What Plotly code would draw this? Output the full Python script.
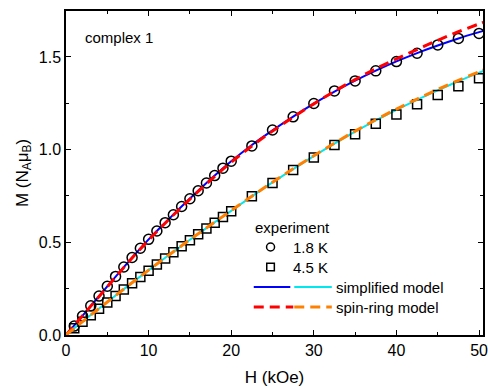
import plotly.graph_objects as go

# ---------------- data ----------------
H_exp = [1, 2, 3, 4, 5, 6, 7, 8, 9, 10, 11, 12, 13, 14, 15, 16, 17, 18, 19, 20,
         22.5, 25, 27.5, 30, 32.5, 35, 37.5, 40, 42.5, 45, 47.5, 50]
M_18K = [0.048, 0.102, 0.158, 0.21, 0.263, 0.316, 0.367, 0.418, 0.468, 0.516,
         0.561, 0.606, 0.649, 0.693, 0.735, 0.778, 0.82, 0.86, 0.9, 0.938,
         1.02, 1.106, 1.177, 1.249, 1.317, 1.371, 1.425, 1.475, 1.52, 1.565, 1.6, 1.627]
M_45K = [0.036, 0.071, 0.106, 0.141, 0.176, 0.21, 0.245, 0.279, 0.313, 0.347,
         0.38, 0.413, 0.446, 0.479, 0.511, 0.543, 0.575, 0.606, 0.637, 0.668,
         0.748, 0.82, 0.89, 0.958, 1.025, 1.083, 1.14, 1.19, 1.245, 1.295, 1.342, 1.385]

H_model = [0, 2.5, 5, 7.5, 10, 12.5, 15, 17.5, 20, 22.5, 25, 27.5, 30, 32.5, 35,
           37.5, 40, 42.5, 45, 47.5, 50, 51]
simp_18K = [0, 0.13, 0.262, 0.392, 0.516, 0.628, 0.736, 0.84, 0.937, 1.025, 1.104,
            1.178, 1.248, 1.313, 1.372, 1.426, 1.476, 1.521, 1.562, 1.6, 1.634, 1.647]
ring_18K = [0, 0.13, 0.26, 0.39, 0.512, 0.625, 0.733, 0.836, 0.932, 1.02, 1.1,
            1.175, 1.247, 1.315, 1.378, 1.436, 1.49, 1.54, 1.59, 1.636, 1.678, 1.694]
simp_45K = [0, 0.09, 0.178, 0.265, 0.35, 0.433, 0.514, 0.593, 0.67, 0.748, 0.823,
            0.895, 0.965, 1.032, 1.097, 1.158, 1.215, 1.269, 1.32, 1.369, 1.415, 1.433]
ring_45K = [0, 0.09, 0.178, 0.265, 0.35, 0.433, 0.514, 0.593, 0.671, 0.749, 0.824,
            0.897, 0.967, 1.035, 1.1, 1.161, 1.219, 1.273, 1.325, 1.374, 1.42, 1.438]

x_ticks = [0, 10, 20, 30, 40, 50]
y_ticks = [0.0, 0.5, 1.0, 1.5]

FONT = "Liberation Sans, Arial, sans-serif"

fig = go.Figure()

# model lines
fig.add_trace(go.Scatter(x=H_model, y=simp_18K, mode="lines", line=dict(color="#0000ff", width=2, shape="spline"), showlegend=False))
fig.add_trace(go.Scatter(x=H_model, y=simp_45K, mode="lines", line=dict(color="#00e8ee", width=2, shape="spline"), showlegend=False))
# experiment
fig.add_trace(go.Scatter(x=H_exp, y=M_18K, mode="markers",
                         marker=dict(symbol="circle-open", size=10, color="black", line=dict(width=1.5, color="black")),
                         showlegend=False))
fig.add_trace(go.Scatter(x=H_exp, y=M_45K, mode="markers",
                         marker=dict(symbol="square-open", size=9, color="black", line=dict(width=1.5, color="black")),
                         showlegend=False))
fig.add_trace(go.Scatter(x=H_model, y=ring_18K, mode="lines", line=dict(color="#ff0000", width=3, dash="10px,6px", shape="spline"), showlegend=False))
fig.add_trace(go.Scatter(x=H_model, y=ring_45K, mode="lines", line=dict(color="#ff8000", width=3, dash="10px,6px", shape="spline"), showlegend=False))

# plot area geometry (pixels) for the hand-drawn legend
L, R, T, B = 66, 488, 11, 335


def px(x):
    return (x - L) / (R - L)


def py(y):
    return (B - y) / (B - T)


shapes = []
annotations = []
# legend title
annotations.append(dict(text="experiment", x=px(255), y=py(227), xref="paper", yref="paper",
                        xanchor="left", yanchor="middle", showarrow=False, font=dict(size=15, color="black", family=FONT)))
# circle
shapes.append(dict(type="circle", xref="paper", yref="paper", xsizemode="pixel", ysizemode="pixel",
                   xanchor=px(273), yanchor=py(247), x0=-4, x1=4, y0=-4, y1=4,
                   line=dict(color="black", width=1.5)))
annotations.append(dict(text="1.8 K", x=px(294), y=py(247), xref="paper", yref="paper",
                        xanchor="left", yanchor="middle", showarrow=False, font=dict(size=15, color="black", family=FONT)))
# square
shapes.append(dict(type="rect", xref="paper", yref="paper", xsizemode="pixel", ysizemode="pixel",
                   xanchor=px(273), yanchor=py(267), x0=-3.8, x1=3.8, y0=-3.8, y1=3.8,
                   line=dict(color="black", width=1.5)))
annotations.append(dict(text="4.5 K", x=px(294), y=py(267), xref="paper", yref="paper",
                        xanchor="left", yanchor="middle", showarrow=False, font=dict(size=15, color="black", family=FONT)))
# simplified model
shapes.append(dict(type="line", xref="paper", yref="paper", x0=px(256), x1=px(293), y0=py(287), y1=py(287),
                   line=dict(color="#0000ff", width=2)))
shapes.append(dict(type="line", xref="paper", yref="paper", x0=px(297), x1=px(335), y0=py(287), y1=py(287),
                   line=dict(color="#00e8ee", width=2)))
annotations.append(dict(text="simplified model", x=px(337), y=py(287), xref="paper", yref="paper",
                        xanchor="left", yanchor="middle", showarrow=False, font=dict(size=15, color="black", family=FONT)))
# spin-ring model
shapes.append(dict(type="line", xref="paper", yref="paper", x0=px(256), x1=px(296), y0=py(307), y1=py(307),
                   line=dict(color="#ff0000", width=3, dash="10px,6px")))
shapes.append(dict(type="line", xref="paper", yref="paper", x0=px(297), x1=px(335), y0=py(307), y1=py(307),
                   line=dict(color="#ff8000", width=3, dash="10px,6px")))
annotations.append(dict(text="spin-ring model", x=px(337), y=py(307), xref="paper", yref="paper",
                        xanchor="left", yanchor="middle", showarrow=False, font=dict(size=15, color="black", family=FONT)))
# panel label
annotations.append(dict(text="complex 1", x=px(83), y=py(37), xref="paper", yref="paper",
                        xanchor="left", yanchor="middle", showarrow=False, font=dict(size=15, color="black", family=FONT)))

fig.update_layout(
    width=488, height=388,
    margin=dict(l=L, r=488 - R, t=T, b=388 - B),
    paper_bgcolor="white", plot_bgcolor="white",
    font=dict(family=FONT, color="black"),
    shapes=shapes, annotations=annotations,
    showlegend=False,
)
fig.update_xaxes(
    range=[0, 50.48], tickvals=x_ticks, ticktext=[str(v) for v in x_ticks],
    ticks="inside", ticklen=5, tickwidth=1.2, tickcolor="black",
    minor=dict(ticks="inside", ticklen=3, tickwidth=1.2, tickcolor="black", dtick=5, tick0=0),
    showline=True, linecolor="black", linewidth=1.5, mirror="allticks",
    showgrid=False, zeroline=False, ticklabeloverflow="allow",
    tickfont=dict(size=16, family=FONT, color="black"),
    title=dict(text="H (kOe)", font=dict(size=17, family=FONT, color="black"), standoff=13),
)
fig.update_yaxes(
    range=[0, 1.748], tickvals=y_ticks, ticktext=[f"{v:.1f}" for v in y_ticks],
    ticks="inside", ticklen=5, tickwidth=1.2, tickcolor="black",
    minor=dict(ticks="inside", ticklen=3, tickwidth=1.2, tickcolor="black", dtick=0.25, tick0=0),
    showline=True, linecolor="black", linewidth=1.5, mirror="allticks",
    showgrid=False, zeroline=False,
    tickfont=dict(size=16, family=FONT, color="black"),
    title=dict(text="M (N<sub>A</sub>μ<sub>B</sub>)", font=dict(size=17, family=FONT, color="black"), standoff=6),
)

fig.write_html("out.html", config={"displayModeBar": False},
               post_script="document.body.style.margin='0';document.body.style.overflow='hidden';")
